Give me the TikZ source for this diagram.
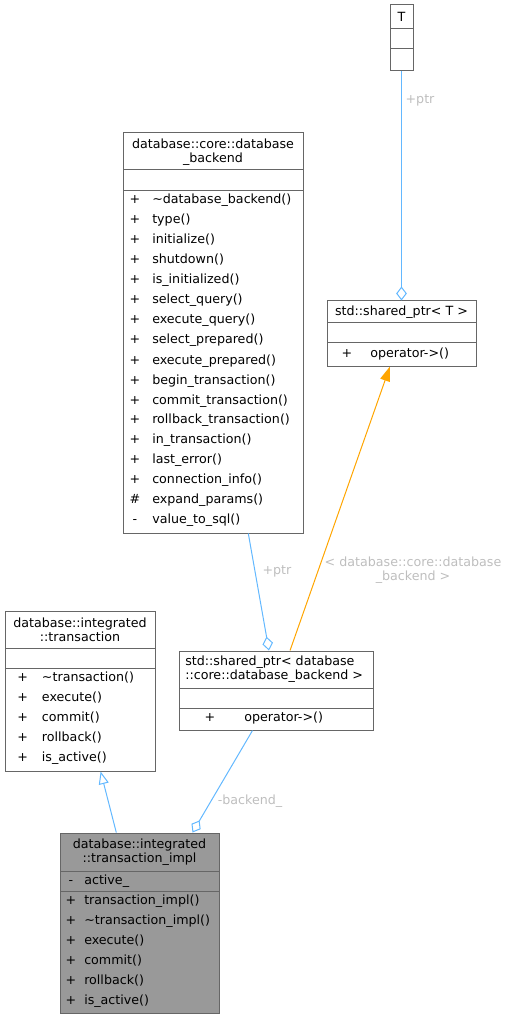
\documentclass[tikz,border=0pt]{standalone}
\usepackage{fontspec}
\setmainfont{DejaVu Sans}
\usetikzlibrary{arrows.meta,fit}
\definecolor{edgeblue}{HTML}{63B8FF}
\definecolor{tmplorange}{HTML}{FFA500}
\definecolor{boxgray}{HTML}{666666}
\definecolor{labelgray}{HTML}{BEBEBE}
\definecolor{curfill}{HTML}{999999}

\begin{document}
\begin{tikzpicture}[x=0.75pt, y=-0.75pt,
  every node/.style={font=\fontsize{9.5pt}{10.5pt}\selectfont, inner sep=0pt},
  classbox/.style={draw=boxgray, line width=0.75pt, fill=white},
  divider/.style={draw=boxgray, line width=0.75pt},
  sign/.style={anchor=base},
  member/.style={anchor=base west},
  edgelabel/.style={text=labelgray, align=center},
  usage/.style={draw=edgeblue, line width=0.75pt, -{Diamond[open, length=10.5pt, width=8pt]}},
  inherit/.style={draw=edgeblue, line width=0.75pt, -{Triangle[open, length=9.5pt, width=7.5pt]}},
  tmpl/.style={draw=tmplorange, line width=0.75pt, -{Triangle[length=11pt, width=7.5pt]}}]
  \useasboundingbox (0,0) rectangle (509,1019);
  % T
  \node[classbox, fit={(390,5) (413,71)}] (T) {};
  \draw[divider] (390,29) -- (413,29);
  \draw[divider] (390,49) -- (413,49);
  \node (Tname) at (401.5,17) {T};
  % std::shared_ptr< T >
  \node[classbox, fit={(327,301) (476,366)}] (sptrT) {};
  \draw[divider] (327,323) -- (476,323);
  \draw[divider] (327,343) -- (476,343);
  \node (sptrTname) at (401.5,312) {std::shared\_ptr< T >};
  \node[sign] (sptrTs1) at (347,357.5) {+};
  \node[member] (sptrTm1) at (370,357.5) {operator->()};
  % database::core::database_backend
  \node[classbox, fit={(123,133) (303,533)}] (backend) {};
  \draw[divider] (123,170) -- (303,170);
  \draw[divider] (123,191) -- (303,191);
  \node[align=center] (backendName) at (213,152) {database::core::database\\\_backend};
  \node[sign] (bks1) at (135,204) {+};
  \node[member] (bkm1) at (152,204) {\textasciitilde database\_backend()};
  \node[sign] (bks2) at (135,224) {+};
  \node[member] (bkm2) at (152,224) {type()};
  \node[sign] (bks3) at (135,244) {+};
  \node[member] (bkm3) at (152,244) {initialize()};
  \node[sign] (bks4) at (135,264) {+};
  \node[member] (bkm4) at (152,264) {shutdown()};
  \node[sign] (bks5) at (135,284) {+};
  \node[member] (bkm5) at (152,284) {is\_initialized()};
  \node[sign] (bks6) at (135,304) {+};
  \node[member] (bkm6) at (152,304) {select\_query()};
  \node[sign] (bks7) at (135,324) {+};
  \node[member] (bkm7) at (152,324) {execute\_query()};
  \node[sign] (bks8) at (135,344) {+};
  \node[member] (bkm8) at (152,344) {select\_prepared()};
  \node[sign] (bks9) at (135,364) {+};
  \node[member] (bkm9) at (152,364) {execute\_prepared()};
  \node[sign] (bks10) at (135,384) {+};
  \node[member] (bkm10) at (152,384) {begin\_transaction()};
  \node[sign] (bks11) at (135,404) {+};
  \node[member] (bkm11) at (152,404) {commit\_transaction()};
  \node[sign] (bks12) at (135,423) {+};
  \node[member] (bkm12) at (152,423) {rollback\_transaction()};
  \node[sign] (bks13) at (135,443) {+};
  \node[member] (bkm13) at (152,443) {in\_transaction()};
  \node[sign] (bks14) at (135,463) {+};
  \node[member] (bkm14) at (152,463) {last\_error()};
  \node[sign] (bks15) at (135,483) {+};
  \node[member] (bkm15) at (152,483) {connection\_info()};
  \node[sign] (bks16) at (135,503) {\#};
  \node[member] (bkm16) at (152,503) {expand\_params()};
  \node[sign] (bks17) at (135,523) {-};
  \node[member] (bkm17) at (152,523) {value\_to\_sql()};
  % database::integrated::transaction
  \node[classbox, fit={(5,611) (155,771)}] (transaction) {};
  \draw[divider] (5,648) -- (155,648);
  \draw[divider] (5,668) -- (155,668);
  \node[align=center] (transactionName) at (80,629.5) {database::integrated\\::transaction};
  \node[sign] (trs1) at (22.7,681.5) {+};
  \node[member] (trm1) at (41.7,681.5) {\textasciitilde transaction()};
  \node[sign] (trs2) at (22.7,701.5) {+};
  \node[member] (trm2) at (41.7,701.5) {execute()};
  \node[sign] (trs3) at (22.7,721.5) {+};
  \node[member] (trm3) at (41.7,721.5) {commit()};
  \node[sign] (trs4) at (22.7,741.5) {+};
  \node[member] (trm4) at (41.7,741.5) {rollback()};
  \node[sign] (trs5) at (22.7,761.5) {+};
  \node[member] (trm5) at (41.7,761.5) {is\_active()};
  % std::shared_ptr< database::core::database_backend >
  \node[classbox, fit={(179,651) (373,730)}] (sptrDb) {};
  \draw[divider] (179,688) -- (373,688);
  \draw[divider] (179,708) -- (373,708);
  \node[align=left, anchor=west] (sptrDbName) at (185,669.5) {std::shared\_ptr< database\\::core::database\_backend >};
  \node[sign] (sdbs1) at (210,721.5) {+};
  \node[member] (sdbm1) at (244,721.5) {operator->()};
  % database::integrated::transaction_impl
  \node[classbox, fill=curfill, fit={(60,833) (219,1013)}] (impl) {};
  \draw[divider] (60,871) -- (219,871);
  \draw[divider] (60,891) -- (219,891);
  \node[align=center] (implName) at (139.5,852) {database::integrated\\::transaction\_impl};
  \node[sign] (ims0) at (71,884.5) {-};
  \node[member] (imm0) at (84,884.5) {active\_};
  \node[sign] (ims1) at (71,904.5) {+};
  \node[member] (imm1) at (84,904.5) {transaction\_impl()};
  \node[sign] (ims2) at (71,924.5) {+};
  \node[member] (imm2) at (84,924.5) {\textasciitilde transaction\_impl()};
  \node[sign] (ims3) at (71,944.5) {+};
  \node[member] (imm3) at (84,944.5) {execute()};
  \node[sign] (ims4) at (71,964.5) {+};
  \node[member] (imm4) at (84,964.5) {commit()};
  \node[sign] (ims5) at (71,984.5) {+};
  \node[member] (imm5) at (84,984.5) {rollback()};
  \node[sign] (ims6) at (71,1004.5) {+};
  \node[member] (imm6) at (84,1004.5) {is\_active()};
  % relations
  \draw[usage] (T) -- (sptrT);
  \node[edgelabel] (lblTptr) at (420,100) {+ptr};
  \draw[usage] (backend) -- (sptrDb);
  \node[edgelabel] (lblBkptr) at (277,571) {+ptr};
  \draw[tmpl] (sptrDb) -- (sptrT);
  \node[edgelabel] (lblTmpl) at (413,570.5) {< database::core::database\\\_backend >};
  \draw[inherit] (impl) -- (transaction);
  \draw[usage] (sptrDb) -- (impl);
  \node[edgelabel] (lblBackend) at (250,801) {-backend\_};
\end{tikzpicture}
\end{document}
